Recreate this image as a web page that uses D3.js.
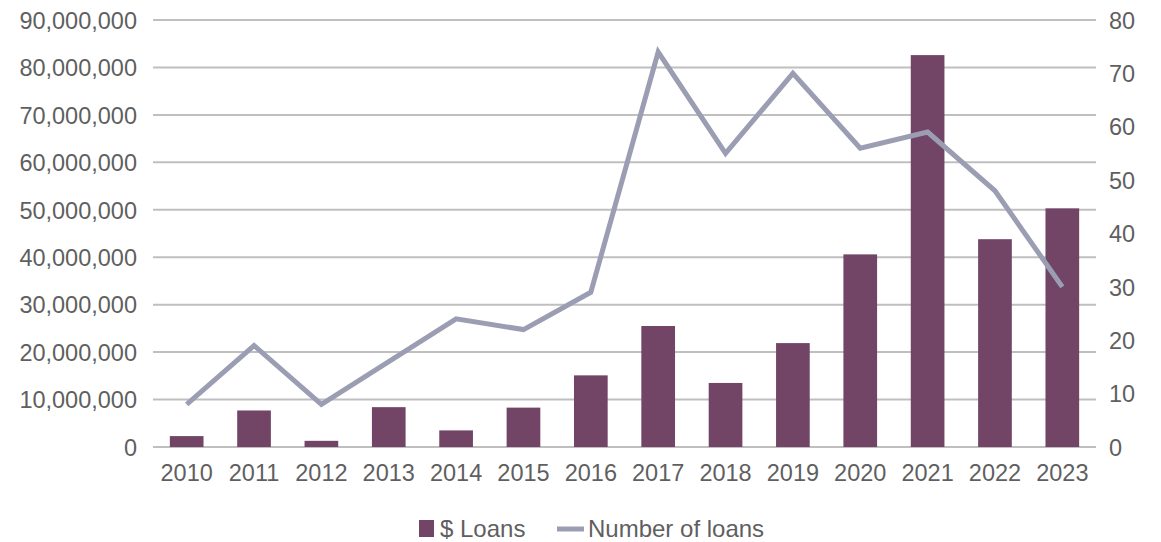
<!DOCTYPE html>
<html>
<head>
<meta charset="utf-8">
<script src="https://cdn.jsdelivr.net/npm/d3@7"></script>
<style>
  html, body { margin: 0; padding: 0; background: #fff; }
  svg { display: block; font-family: "Liberation Sans", Arial, sans-serif; }
</style>
</head>
<body>
<svg id="chart" width="1161" height="542"></svg>
<script>
// Loan volume (bars, left axis) and loan count (line, right axis) by year
const years = ["2010", "2011", "2012", "2013", "2014", "2015", "2016", "2017", "2018", "2019", "2020", "2021", "2022", "2023"];
const loanDollars = [2300000, 7700000, 1300000, 8400000, 3500000, 8300000, 15100000, 25500000, 13500000, 21900000, 40600000, 82600000, 43800000, 50300000];
const loanCounts = [8, 19, 8, 16, 24, 22, 29, 74, 55, 70, 56, 59, 48, 30];
const leftTicks = [0, 10000000, 20000000, 30000000, 40000000, 50000000, 60000000, 70000000, 80000000, 90000000];
const rightTicks = [0, 10, 20, 30, 40, 50, 60, 70, 80];
const legendLabels = ["$ Loans", "Number of loans"];

const barColor = "#724566";
const lineColor = "#9b9eb3";
const gridColor = "#bfbfbf";
const textColor = "#5f5f5f";
const fontSize = "23.5px";

const margin = { left: 153, right: 1096, top: 20, bottom: 447 };
const svg = d3.select("#chart");

const x = d3.scaleBand().domain(years).range([margin.left, margin.right]).paddingInner(0.5).paddingOuter(0.25);
const yLeft = d3.scaleLinear().domain([0, 90000000]).range([margin.bottom, margin.top]);
const yRight = d3.scaleLinear().domain([0, 80]).range([margin.bottom, margin.top]);

// Horizontal gridlines
svg.append("g")
  .selectAll("line")
  .data(leftTicks)
  .join("line")
  .attr("x1", margin.left)
  .attr("x2", margin.right)
  .attr("y1", d => yLeft(d))
  .attr("y2", d => yLeft(d))
  .attr("stroke", gridColor)
  .attr("stroke-width", 2);

// Left axis
const fmt = d3.format(",");
const leftAxis = d3.axisLeft(yLeft).tickValues(leftTicks).tickFormat(fmt).tickSize(0).tickPadding(16);
const gL = svg.append("g").attr("transform", `translate(${margin.left},0)`).call(leftAxis);
gL.select(".domain").remove();
gL.selectAll("text").attr("fill", textColor).style("font-size", fontSize).attr("dy", "0.35em");

// Right axis
const rightAxis = d3.axisRight(yRight).tickValues(rightTicks).tickSize(0).tickPadding(13);
const gR = svg.append("g").attr("transform", `translate(${margin.right},0)`).call(rightAxis);
gR.select(".domain").remove();
gR.selectAll("text").attr("fill", textColor).style("font-size", fontSize).attr("dy", "0.35em");

// Bottom axis (year labels)
const bottomAxis = d3.axisBottom(x).tickSize(0).tickPadding(17);
const gB = svg.append("g").attr("transform", `translate(0,${margin.bottom})`).call(bottomAxis);
gB.select(".domain").remove();
gB.selectAll("text").attr("fill", textColor).style("font-size", fontSize);

// Bars
svg.append("g")
  .selectAll("rect")
  .data(years.map((y, i) => ({ year: y, value: loanDollars[i] })))
  .join("rect")
  .attr("x", d => x(d.year))
  .attr("width", x.bandwidth())
  .attr("y", d => yLeft(d.value))
  .attr("height", d => yLeft(0) - yLeft(d.value))
  .attr("fill", barColor);

// Line
const line = d3.line()
  .x(d => x(d.year) + x.bandwidth() / 2)
  .y(d => yRight(d.value));
svg.append("path")
  .datum(years.map((y, i) => ({ year: y, value: loanCounts[i] })))
  .attr("d", line)
  .attr("fill", "none")
  .attr("stroke", lineColor)
  .attr("stroke-width", 5)
  .attr("stroke-linejoin", "miter");

// Legend
const legend = svg.append("g").style("font-size", "24px");
legend.append("rect").attr("x", 419).attr("y", 520).attr("width", 15).attr("height", 17).attr("fill", barColor);
legend.append("text").attr("x", 440).attr("y", 537).attr("fill", textColor).text(legendLabels[0]);
legend.append("line").attr("x1", 557).attr("x2", 584).attr("y1", 529).attr("y2", 529)
  .attr("stroke", lineColor).attr("stroke-width", 5);
legend.append("text").attr("x", 588).attr("y", 537).attr("fill", textColor).text(legendLabels[1]);
</script>
</body>
</html>
